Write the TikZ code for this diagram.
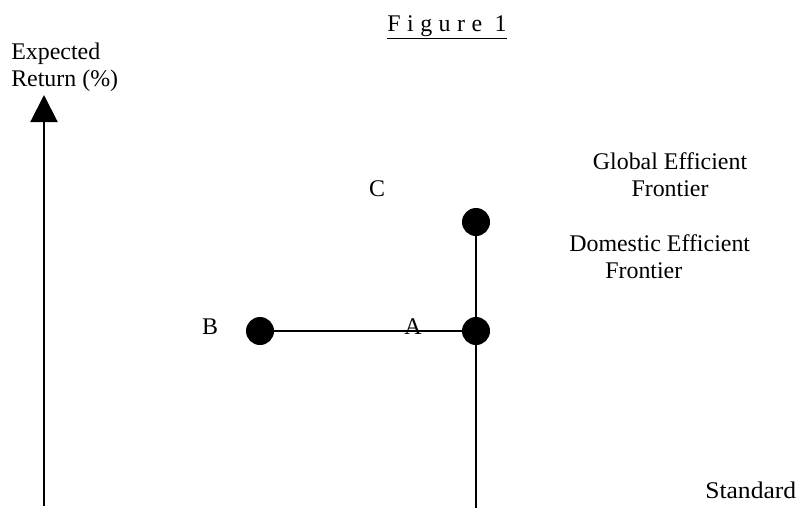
\documentclass[tikz,border=0pt]{standalone}
\usepackage{fontspec}
\setmainfont{Liberation Serif}
\usetikzlibrary{arrows.meta}
\begin{document}
\begin{tikzpicture}[x=0.025cm,y=-0.025cm,
  every node/.style={font=\fontsize{17}{18.6}\selectfont,inner sep=0pt},
  dot/.style={circle,fill=black,minimum size=0.7cm},
  axis/.style={line width=1.5pt,-{Triangle[length=0.68cm,width=0.68cm]}},
  rule/.style={line width=1.4pt}]
  \useasboundingbox (0,0) rectangle (801,508);
  % title and axis
  \node[anchor=base] (title) at (447,31) {\underline{\addfontfeature{LetterSpace=27}Figure 1}};
  \node[anchor=base west,align=left] (ylabel) at (11,86) {Expected\\Return (\%)};
  \coordinate (ybase) at (44,506);
  \coordinate (ytip) at (44,95);
  \draw[axis] (ybase) -- (ytip);
  \node[anchor=base west] (xlabel) at (705,498) {\scalebox{1.07}[1]{Standard}};
  % portfolios
  \node[dot] (dotC) at (476,222) {};
  \node[dot] (dotA) at (476,331) {};
  \node[dot] (dotB) at (260,331) {};
  \coordinate (foot) at (476,508);
  \draw[rule] (dotB) -- (dotA);
  \draw[rule] (dotC) -- (dotA);
  \draw[rule] (dotA) -- (foot);
  \node[anchor=base] (labA) at (413,334) {A};
  \node[anchor=base] (labB) at (210,334) {B};
  \node[anchor=base] (labC) at (377,196) {C};
  % frontiers
  \node[anchor=base,align=center] (global) at (670,196) {Global Efficient\\Frontier};
  \node[anchor=base west,align=left] (domestic) at (569,278) {Domestic Efficient\\\hspace*{0.9cm}Frontier};
\end{tikzpicture}
\end{document}
